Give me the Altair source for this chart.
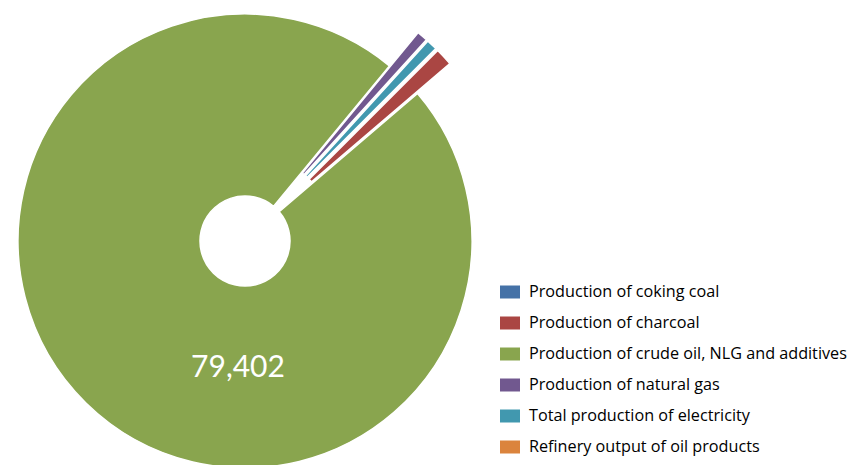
import altair as alt
import pandas as pd

categories = [
    "Production of coking coal",
    "Production of charcoal",
    "Production of crude oil, NLG and additives",
    "Production of natural gas",
    "Total production of electricity",
    "Refinery output of oil products",
]
values = [0, 1020, 79402, 620, 620, 0]
colors = ["#4572A7", "#AA4643", "#89A54E", "#71588F", "#4198AF", "#DB843D"]
exploded = [1, 1, 0, 1, 1, 1]

df = pd.DataFrame({
    "cat": categories,
    "value": values,
    "order": list(range(len(categories))),
    "exploded": exploded,
})

CX, CY = 237, 233
START = 0.785  # first slice angle (radians, ~45 deg)
EXPLODE = 44

base = alt.Chart(df).transform_joinaggregate(
    total="sum(value)"
).transform_window(
    cum="sum(value)", sort=[alt.SortField("order")], frame=[None, 0]
).transform_calculate(
    t0=f"{START} + 2*PI*(datum.cum - datum.value)/datum.total",
    t1=f"{START} + 2*PI*datum.cum/datum.total",
).transform_calculate(
    mid="(datum.t0 + datum.t1)/2",
).transform_calculate(
    px=f"{CX} + datum.exploded*{EXPLODE}*sin(datum.mid)",
    py=f"{CY} - datum.exploded*{EXPLODE}*cos(datum.mid)",
)

arcs = base.mark_arc(innerRadius=45, outerRadius=227, stroke="white", strokeWidth=1.5).encode(
    theta=alt.Theta("t0:Q", scale=None),
    theta2="t1:Q",
    x=alt.X("px:Q", scale=None),
    y=alt.Y("py:Q", scale=None),
    color=alt.Color(
        "cat:N",
        scale=alt.Scale(domain=categories, range=colors),
        legend=alt.Legend(
            title=None,
            orient="none",
            legendX=492,
            legendY=274,
            symbolType="M-1,-0.65H1V0.65H-1Z",
            symbolSize=400,
            symbolStrokeWidth=0,
            symbolOpacity=1,
            labelFont="Open Sans",
            labelFontSize=16.2,
            labelColor="#000000",
            labelLimit=400,
            rowPadding=12,
            labelOffset=9,
        ),
    ),
)

label = base.transform_filter(alt.datum.exploded == 0).mark_text(
    font="Lato", fontSize=30, color="white", align="center", baseline="alphabetic"
).encode(
    text=alt.Text("value:Q", format=",d"),
    x=alt.value(230),
    y=alt.value(369),
)

chart = alt.layer(arcs, label).properties(
    width=845, height=457, padding=0,
    autosize=alt.AutoSizeParams(type="none"),
).configure_view(stroke=None)

chart.save("out.html", embed_options={"renderer": "svg", "actions": False})
